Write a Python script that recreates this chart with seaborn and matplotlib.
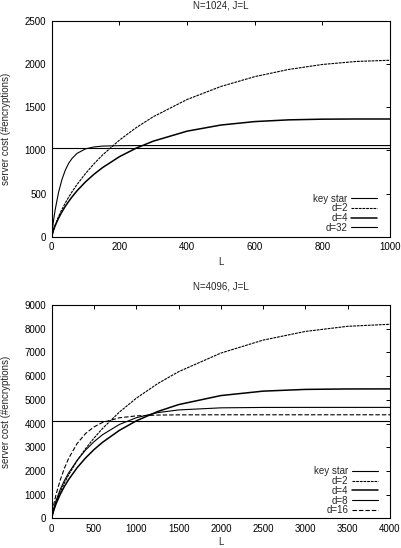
import matplotlib
matplotlib.use('Agg')
import matplotlib.pyplot as plt
import pandas as pd
import seaborn as sns

# N=1024 panel
L_top = [0, 5, 10, 20, 30, 40, 50, 60, 75, 100, 125, 150, 200, 250, 300,
         400, 500, 600, 700, 800, 900, 1000]
keystar_top = [1024] * len(L_top)
d2_top = [0, 76, 134, 232, 315, 390, 457, 520, 606, 733, 845, 946, 1119, 1265,
          1390, 1590, 1741, 1855, 1938, 1996, 2031, 2045]
d4_top = [0, 72, 125, 213, 286, 351, 408, 461, 533, 636, 724, 800, 927, 1027,
          1107, 1223, 1294, 1334, 1354, 1362, 1364, 1364]
d32_top = [0, 180, 308, 511, 660, 770, 850, 907, 966, 1018, 1040, 1050, 1055,
           1056, 1056, 1056, 1056, 1056, 1056, 1056, 1056, 1056]

# N=4096 panel
L_bot = [0, 10, 25, 50, 100, 150, 200, 300, 400, 500, 600, 800, 1000, 1250,
         1500, 2000, 2500, 3000, 3500, 4000]
keystar_bot = [4096] * len(L_bot)
d2_bot = [0, 174, 373, 649, 1106, 1493, 1835, 2429, 2939, 3387, 3788, 4483,
          5067, 5678, 6187, 6972, 7520, 7886, 8102, 8188]
d4_bot = [0, 165, 348, 600, 1007, 1345, 1637, 2133, 2546, 2899, 3205, 3711,
          4112, 4502, 4798, 5179, 5366, 5439, 5458, 5460]
d8_bot = [0, 207, 431, 734, 1214, 1594, 1915, 2447, 2879, 3234, 3526, 3960,
          4244, 4458, 4573, 4661, 4678, 4680, 4680, 4680]
d16_bot = [0, 292, 601, 992, 1609, 2113, 2529, 3155, 3577, 3858, 4044, 4241,
           4322, 4356, 4365, 4368, 4368, 4368, 4368, 4368]

sns.set_style('white')
plt.rcParams['font.family'] = ['Liberation Sans', 'DejaVu Sans']
plt.rcParams['font.size'] = 7

solid = '-'
fine = (0, (2.5, 0.8))
longdash = (0, (4, 1.8))

fig = plt.figure(figsize=(4.01, 5.48), dpi=100)
ax1 = fig.add_axes([0.129, 0.5681, 0.8437, 0.3936])
ax2 = fig.add_axes([0.129, 0.0542, 0.8437, 0.3892])

top_series = [('key star', keystar_top, solid, 0.8), ('d=2', d2_top, fine, 0.8),
              ('d=4', d4_top, solid, 1.1), ('d=32', d32_top, solid, 0.8)]
for name, vals, ls, lw in top_series:
    sns.lineplot(x=L_top, y=vals, ax=ax1, color='black', linewidth=lw,
                 linestyle=ls, label=name)

bot_series = [('key star', keystar_bot, solid, 0.8), ('d=2', d2_bot, fine, 0.8),
              ('d=4', d4_bot, solid, 1.1), ('d=8', d8_bot, solid, 0.8),
              ('d=16', d16_bot, longdash, 0.8)]
for name, vals, ls, lw in bot_series:
    sns.lineplot(x=L_bot, y=vals, ax=ax2, color='black', linewidth=lw,
                 linestyle=ls, label=name)


def style_axes(ax, title, xmax, xstep, ymax, ystep, title_y, xlab_y, leg_anchor):
    ax.set_xlim(0, xmax)
    ax.set_ylim(0, ymax)
    ax.set_xticks(range(0, xmax + 1, xstep))
    ax.set_yticks(range(0, ymax + 1, ystep))
    ax.tick_params(direction='in', length=3, width=0.7, top=True, right=True,
                   labelsize=7, pad=4, colors='black')
    for sp in ax.spines.values():
        sp.set_linewidth(0.8)
        sp.set_color('black')
    ax.text(0.5, title_y, title, transform=ax.transAxes, ha='center',
            va='center', fontsize=7)
    ax.set_xlabel('L', fontsize=7)
    ax.set_ylabel('server cost (#encryptions)', fontsize=7)
    ax.xaxis.set_label_coords(0.5, xlab_y)
    ax.yaxis.set_label_coords(-0.1203, 0.5)
    for ln in ax.get_lines():
        ln.set_dash_capstyle('butt')
    leg = ax.legend(loc='lower right', bbox_to_anchor=leg_anchor,
                    frameon=False, markerfirst=False, handlelength=2.7,
                    handletextpad=0.35, labelspacing=-0.03, borderpad=0,
                    borderaxespad=0, fontsize=7)
    return leg


style_axes(ax1, 'N=1024, J=L', 1000, 200, 2500, 500, 1.074, -0.093,
           (0.9625, 0.018))
style_axes(ax2, 'N=4096, J=L', 4000, 500, 9000, 1000, 1.086, -0.088,
           (0.9645, 0.014))

fig.savefig('out.png', dpi=100)
